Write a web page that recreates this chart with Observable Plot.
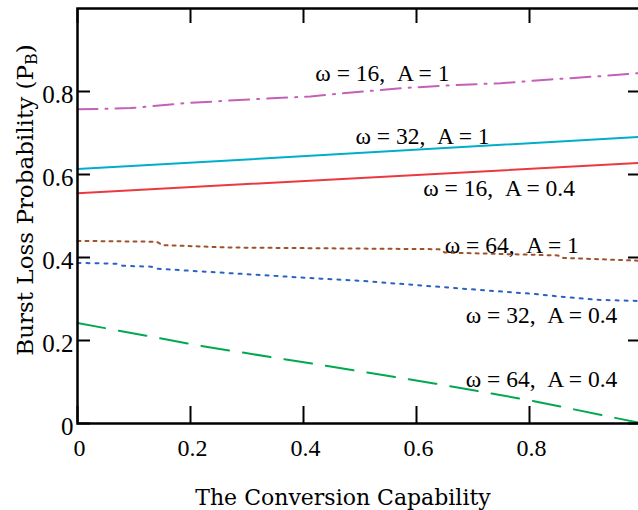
<!DOCTYPE html>
<html>
<head>
<meta charset="utf-8">
<script src="https://cdn.jsdelivr.net/npm/d3@7"></script>
<script src="https://cdn.jsdelivr.net/npm/@observablehq/plot@0.6"></script>
<style>
  html, body { margin: 0; padding: 0; background: #fff; }
  svg text { font-family: "Liberation Serif", "Times New Roman", serif; }
  svg text.title { font-family: "DejaVu Serif", "Liberation Serif", serif; }
</style>
</head>
<body>
<div id="chart"></div>
<script>
// ---- data ----
const xW16A1 = [0, 0.094, 0.191, 0.306, 0.412, 0.465, 0.572, 0.660, 0.749, 0.837, 0.926, 1.0];
const yW16A1 = [0.757, 0.760, 0.772, 0.781, 0.788, 0.795, 0.808, 0.815, 0.820, 0.829, 0.837, 0.845];

const xW32A1 = [0, 1.0];
const yW32A1 = [0.613, 0.691];

const xW16A04 = [0, 1.0];
const yW16A04 = [0.555, 0.628];

const xW64A1 = [0, 0.14, 0.15, 0.27, 0.64, 0.65, 0.85, 0.86, 1.0];
const yW64A1 = [0.440, 0.438, 0.430, 0.424, 0.420, 0.412, 0.405, 0.399, 0.392];

const xW32A04 = [0, 0.07, 0.08, 0.13, 0.14, 0.43, 0.50, 0.71, 0.81, 0.86, 0.92, 1.0];
const yW32A04 = [0.387, 0.385, 0.380, 0.378, 0.373, 0.349, 0.344, 0.322, 0.312, 0.305, 0.298, 0.295];

const xW64A04 = [0, 0.124, 0.218, 0.412, 0.634, 0.804, 1.0];
const yW64A04 = [0.242, 0.211, 0.187, 0.145, 0.096, 0.055, 0.0];

const xTicks = [0, 0.2, 0.4, 0.6, 0.8];
const xTickLabels = ["0", "0.2", "0.4", "0.6", "0.8"];
const yTicks = [0, 0.2, 0.4, 0.6, 0.8];
const yTickLabels = ["0", "0.2", "0.4", "0.6", "0.8"];

const annText = ["ω = 16,\u00a0\u00a0A = 1", "ω = 32,\u00a0\u00a0A = 1", "ω = 16,\u00a0\u00a0A = 0.4",
                 "ω = 64,\u00a0\u00a0A = 1", "ω = 32,\u00a0\u00a0A = 0.4", "ω = 64,\u00a0\u00a0A = 0.4"];
const annX = [0.421, 0.492, 0.612, 0.650, 0.687, 0.687];
const annY = [0.825, 0.673, 0.548, 0.411, 0.243, 0.087];

const xTitle = "The Conversion Capability";
const yTitle = "Burst Loss Probability (P";
const yTitleSub = "B";

// ---- build tables ----
const toRows = (xs, ys) => xs.map((x, i) => ({x, y: ys[i]}));
const annotations = annText.map((t, i) => ({text: t, x: annX[i], y: annY[i]}));

const SERIF = "Liberation Serif, Times New Roman, serif";
const lineStyle = (stroke, dash) => ({x: "x", y: "y", stroke, strokeWidth: 2, strokeDasharray: dash, curve: "linear"});

const svg = Plot.plot({
  width: 638,
  height: 510,
  marginLeft: 77,
  marginRight: -4,
  marginTop: 8,
  marginBottom: 87,
  x: {domain: [0, 1]},
  y: {domain: [0, 1]},
  style: {fontFamily: SERIF, background: "white", overflow: "hidden", color: "black"},
  marks: [
    // lines
    Plot.line(toRows(xW16A1, yW16A1), lineStyle("#c560b6", "20,8,2,8")),
    Plot.line(toRows(xW32A1, yW32A1), lineStyle("#00aecb", null)),
    Plot.line(toRows(xW16A04, yW16A04), lineStyle("#ea3a40", null)),
    Plot.line(toRows(xW64A1, yW64A1), lineStyle("#a0522d", "3,5")),
    Plot.line(toRows(xW32A04, yW32A04), lineStyle("#2a62c0", "3,6")),
    Plot.line(toRows(xW64A04, yW64A04), lineStyle("#00a94f", "28,14")),
    // inward ticks
    Plot.ruleX(xTicks, {stroke: "black", strokeWidth: 2, insetTop: 398}),
    Plot.ruleX(xTicks, {stroke: "black", strokeWidth: 2, insetBottom: 400}),
    Plot.ruleY(yTicks, {stroke: "black", strokeWidth: 2, insetRight: 552}),
    Plot.ruleY(yTicks, {stroke: "black", strokeWidth: 2, insetLeft: 551}),
    // frame
    Plot.frame({stroke: "black", strokeWidth: 2.5}),
    // tick labels
    Plot.axisX({anchor: "bottom", ticks: xTicks, tickSize: 0, tickPadding: 15, dx: 2,
      tickFormat: (d, i) => xTickLabels[i], fontSize: 24, fontFamily: SERIF, label: null}),
    Plot.axisY({anchor: "left", ticks: yTicks, tickSize: 0, tickPadding: 4, dy: 3,
      tickFormat: (d, i) => yTickLabels[i], fontSize: 25, fontFamily: SERIF, label: null}),
    // annotations
    Plot.text(annotations, {x: "x", y: "y", text: "text", textAnchor: "start", lineAnchor: "bottom",
      fontSize: 23.5, fontFamily: SERIF, fill: "black"})
  ]
});

const s = d3.select(svg);
s.append("text")
  .attr("class", "title")
  .attr("x", 343).attr("y", 505)
  .attr("text-anchor", "middle")
  .style("font-family", "'DejaVu Serif', 'Liberation Serif', serif")
  .style("font-size", "22px")
  .attr("fill", "black")
  .text(xTitle);

const yt = s.append("text")
  .attr("class", "title")
  .attr("transform", "translate(33,200) rotate(-90)")
  .attr("text-anchor", "middle")
  .style("font-family", "'DejaVu Serif', 'Liberation Serif', serif")
  .style("font-size", "23px")
  .attr("fill", "black");
yt.append("tspan").text(yTitle);
yt.append("tspan").style("font-size", "16px").attr("dy", 4).text(yTitleSub);
yt.append("tspan").attr("dy", -4).text(")");

document.getElementById("chart").appendChild(svg);
</script>
</body>
</html>
